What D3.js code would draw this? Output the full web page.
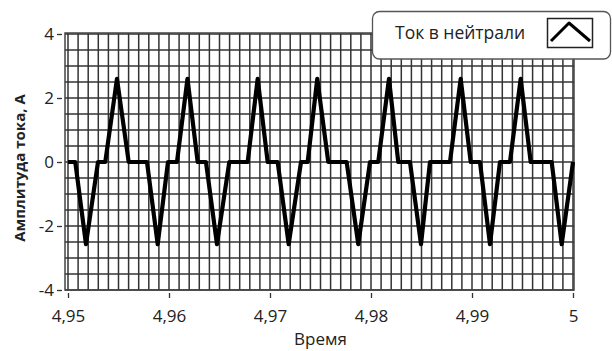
<!DOCTYPE html>
<html>
<head>
<meta charset="utf-8">
<script src="https://cdn.jsdelivr.net/npm/d3@7"></script>
<style>
  html, body { margin: 0; padding: 0; background: #fff; }
  svg { display: block; }
  text { font-family: "Open Sans", "Noto Sans", sans-serif; fill: #222; }
</style>
</head>
<body>
<svg id="chart" width="612" height="351"></svg>
<script>
// Neutral-conductor current, sampled vertices (time in s, current in A)
const times = [
  4.95000, 4.95072, 4.95178, 4.95297, 4.95369, 4.95485, 4.95601, 4.95782,
  4.95888, 4.95990, 4.96079, 4.96183, 4.96284, 4.96366, 4.96475, 4.96597,
  4.96779, 4.96878, 4.96977, 4.97076, 4.97185, 4.97307, 4.97373, 4.97468,
  4.97577, 4.97759, 4.97874, 4.97990, 4.98072, 4.98178, 4.98270, 4.98386,
  4.98495, 4.98584, 4.98782, 4.98888, 4.98987, 4.99079, 4.99178, 4.99277,
  4.99376, 4.99482, 4.99581, 4.99789, 4.99888, 5.00000
];
const current = [
  0, 0, -2.57, 0, 0, 2.6, 0, 0,
  -2.57, 0, 0, 2.6, 0, 0, -2.57, 0,
  0, 2.6, 0, 0, -2.57, 0, 0, 2.6,
  0, 0, -2.57, 0, 0, 2.6, 0, 0,
  -2.57, 0, 0, 2.6, 0, 0, -2.57, 0,
  0, 2.6, 0, 0, -2.57, 0
];

const xTickValues = [4.95, 4.96, 4.97, 4.98, 4.99, 5];
const xTickLabels = ["4,95", "4,96", "4,97", "4,98", "4,99", "5"];
const yTickValues = [-4, -2, 0, 2, 4];
const yTickLabels = ["-4", "-2", "0", "2", "4"];
const xGridStep = 0.001;
const yGridStep = 0.5;

const xTitle = "Время";
const yTitle = "Амплитуда тока, А";
const seriesName = "Ток в нейтрали";

const svg = d3.select("#chart");

const plot = { left: 65, right: 574, top: 33, bottom: 290 };
const x = d3.scaleLinear().domain([4.95, 5]).range([68, 573]);
const y = d3.scaleLinear().domain([-4, 4]).range([290, 34]);

// plot background
svg.append("rect")
  .attr("x", plot.left).attr("y", plot.top)
  .attr("width", plot.right - plot.left).attr("height", plot.bottom - plot.top)
  .attr("fill", "#fff");

// grid
const xGrid = d3.range(0, Math.round((5 - 4.95) / xGridStep) + 1).map(i => 4.95 + i * xGridStep);
const yGrid = d3.range(0, Math.round(8 / yGridStep) + 1).map(i => -4 + i * yGridStep);
const grid = svg.append("g").attr("stroke", "#333").attr("stroke-width", 1.5);
grid.selectAll("line.v").data(xGrid).join("line")
  .attr("class", "v")
  .attr("x1", d => x(d)).attr("x2", d => x(d))
  .attr("y1", plot.top).attr("y2", plot.bottom);
grid.selectAll("line.h").data(yGrid).join("line")
  .attr("class", "h")
  .attr("x1", plot.left).attr("x2", plot.right)
  .attr("y1", d => y(d)).attr("y2", d => y(d));

// plot frame
svg.append("rect")
  .attr("x", plot.left).attr("y", plot.top)
  .attr("width", plot.right - plot.left).attr("height", plot.bottom - plot.top)
  .attr("fill", "none").attr("stroke", "#444").attr("stroke-width", 1.5);

// waveform
const pts = times.map((t, i) => [t, current[i]]);
const line = d3.line().x(d => x(d[0])).y(d => y(d[1]));
svg.append("path")
  .datum(pts)
  .attr("d", line)
  .attr("fill", "none")
  .attr("stroke", "#000")
  .attr("stroke-width", 4.2)
  .attr("stroke-linejoin", "round")
  .attr("stroke-linecap", "butt");

// axes
const yAxis = d3.axisLeft(y)
  .tickValues(yTickValues)
  .tickFormat((d, i) => yTickLabels[i])
  .tickSize(5).tickPadding(3);
const gy = svg.append("g").attr("transform", "translate(62,0)").call(yAxis);
gy.select(".domain").remove();
gy.selectAll(".tick line").attr("stroke", "#333").attr("stroke-width", 1.3);
gy.selectAll(".tick text").style("font-size", "17px").attr("fill", "#222");

const xAxis = d3.axisBottom(x)
  .tickValues(xTickValues)
  .tickFormat((d, i) => xTickLabels[i])
  .tickSize(5).tickPadding(12);
const gx = svg.append("g").attr("transform", "translate(0,293)").call(xAxis);
gx.select(".domain").remove();
gx.selectAll(".tick line").attr("stroke", "#333").attr("stroke-width", 1.3);
gx.selectAll(".tick text").style("font-size", "17px").attr("fill", "#222");

// axis titles
svg.append("text")
  .attr("x", (x(4.95) + x(5)) / 2).attr("y", 345)
  .attr("text-anchor", "middle")
  .style("font-size", "17px")
  .text(xTitle);

svg.append("text")
  .attr("transform", "translate(25,168) rotate(-90)")
  .attr("text-anchor", "middle")
  .style("font-size", "15px").style("font-weight", "bold")
  .text(yTitle);

// legend
const lg = svg.append("g");
lg.append("rect")
  .attr("x", 372.5).attr("y", 11.5).attr("width", 238).attr("height", 47.5)
  .attr("rx", 7).attr("ry", 7)
  .attr("fill", "#fff").attr("stroke", "#555").attr("stroke-width", 1.3);
lg.append("text")
  .attr("x", 395).attr("y", 39)
  .style("font-size", "17.5px")
  .text(seriesName);
lg.append("rect")
  .attr("x", 547.5).attr("y", 18.5).attr("width", 45).attr("height", 29)
  .attr("fill", "#fff").attr("stroke", "#222").attr("stroke-width", 1.5);
lg.append("path")
  .attr("d", "M551,41 L569,23 L590,41")
  .attr("fill", "none").attr("stroke", "#000").attr("stroke-width", 3)
  .attr("stroke-linejoin", "round");
</script>
</body>
</html>
